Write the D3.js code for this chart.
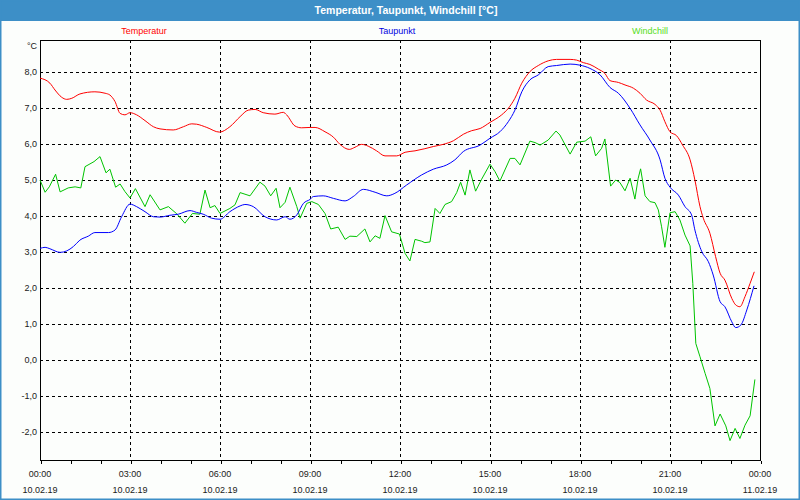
<!DOCTYPE html>
<html>
<head>
<meta charset="utf-8">
<script src="https://cdn.jsdelivr.net/npm/d3@7"></script>
<style>
  html, body { margin: 0; padding: 0; background: #ffffff; }
  svg { display: block; }
  text { font-family: "Liberation Sans", Arial, sans-serif; }
</style>
</head>
<body>
<svg id="chart" width="800" height="500"></svg>
<script>
// ---- data (hours since 10.02.19 00:00, °C) ----
const titleText = "Temperatur, Taupunkt, Windchill [°C]";
const seriesNames = ["Temperatur", "Taupunkt", "Windchill"];

const tempHours = [0,0.33,0.5,0.72,0.89,1.06,1.33,1.83,2.17,2.33,2.5,2.67,2.83,3.0,3.22,3.5,3.78,4.0,4.44,4.78,5.06,5.22,5.56,5.98,6.33,6.67,6.94,7.17,7.44,7.83,8.11,8.22,8.5,8.72,9.0,9.17,9.5,9.78,10.0,10.31,10.5,10.72,10.94,11.22,11.5,11.89,12.17,12.5,12.83,13.11,13.44,13.78,14.11,14.39,14.67,15.0,15.39,15.61,15.83,16.06,16.33,16.61,16.94,17.22,17.67,17.89,18.11,18.33,18.61,18.83,19.0,19.28,19.5,19.78,20.0,20.22,20.5,20.67,20.83,21.0,21.22,21.42,21.67,21.83,22.0,22.11,22.33,22.52,22.67,22.83,23.06,23.19,23.33,23.5,23.67,23.81];
const tempValues = [7.83,7.69,7.5,7.3,7.24,7.27,7.39,7.45,7.41,7.36,7.18,6.85,6.81,6.87,6.81,6.65,6.48,6.42,6.39,6.48,6.56,6.55,6.46,6.33,6.48,6.76,6.94,6.96,6.87,6.83,6.88,6.81,6.5,6.45,6.46,6.46,6.34,6.19,5.99,5.85,5.91,5.99,5.94,5.81,5.67,5.67,5.77,5.81,5.87,5.93,5.99,6.09,6.27,6.37,6.43,6.6,6.81,6.99,7.27,7.69,8.01,8.18,8.31,8.35,8.35,8.33,8.26,8.21,8.08,7.96,7.76,7.71,7.64,7.55,7.41,7.22,7.1,6.94,6.62,6.34,6.23,5.97,5.56,5.0,4.26,3.94,3.52,2.87,2.41,2.22,1.71,1.53,1.48,1.76,2.13,2.45];

const dewHours = [0,0.17,0.33,0.67,0.89,1.11,1.33,1.61,1.83,2.28,2.5,2.72,3.0,3.22,3.5,3.78,4.0,4.33,4.61,5.0,5.22,5.44,5.72,6.0,6.33,6.67,6.83,7.11,7.5,7.89,8.17,8.33,8.56,8.78,9.0,9.11,9.44,9.78,10.17,10.44,10.78,11.17,11.56,11.83,12.22,12.72,13.11,13.56,13.83,14.11,14.67,15.0,15.33,15.61,15.83,16.06,16.33,16.61,16.94,17.22,17.67,18.0,18.33,18.67,19.0,19.28,19.67,20.0,20.33,20.67,20.83,21.0,21.28,21.5,21.72,21.83,22.06,22.28,22.44,22.67,22.83,23.06,23.19,23.36,23.56,23.8];
const dewValues = [3.1,3.13,3.09,2.99,3.03,3.15,3.33,3.44,3.54,3.54,3.61,3.98,4.33,4.26,4.12,3.98,3.97,4.02,4.05,4.15,4.1,4.05,3.94,3.91,4.12,4.28,4.32,4.26,3.98,3.89,3.98,3.91,4.03,4.35,4.46,4.54,4.56,4.49,4.42,4.54,4.74,4.66,4.56,4.63,4.86,5.14,5.3,5.42,5.56,5.79,5.97,6.16,6.34,6.62,6.94,7.45,7.78,7.92,8.15,8.18,8.22,8.19,8.1,7.92,7.57,7.41,6.99,6.53,6.11,5.56,5.05,4.8,4.58,4.26,4.03,3.61,3.01,2.73,2.36,1.62,1.48,1.06,0.9,0.97,1.39,2.06];

const chillHours = [0,0.17,0.31,0.52,0.67,0.94,1.17,1.36,1.5,1.8,2.0,2.2,2.33,2.52,2.67,2.83,3.0,3.18,3.5,3.67,4.0,4.28,4.56,4.83,5.08,5.33,5.5,5.67,5.83,6.0,6.33,6.5,6.67,7.0,7.33,7.5,7.69,7.87,8.0,8.17,8.33,8.56,8.67,8.89,9.06,9.28,9.5,9.69,9.94,10.17,10.33,10.56,10.83,11.0,11.17,11.33,11.5,11.72,11.98,12.17,12.33,12.5,12.72,12.83,13.0,13.17,13.33,13.5,13.72,13.89,14.02,14.17,14.33,14.52,14.72,15.0,15.17,15.33,15.67,15.83,16.0,16.33,16.5,16.67,16.94,17.2,17.33,17.67,17.89,18.17,18.36,18.52,18.72,18.83,19.02,19.19,19.33,19.5,19.67,19.83,19.94,20.02,20.17,20.33,20.5,20.61,20.72,20.83,21.0,21.17,21.33,21.5,21.67,21.76,21.86,22.0,22.17,22.33,22.5,22.67,22.86,23.0,23.17,23.33,23.5,23.67,23.83];
const chillValues = [5.0,4.66,4.81,5.16,4.67,4.78,4.81,4.78,5.37,5.51,5.65,5.2,5.3,4.8,4.89,4.68,4.5,4.76,4.26,4.59,4.17,4.26,4.06,3.8,4.07,4.05,4.72,4.23,4.29,4.07,4.21,4.31,4.65,4.56,4.94,4.83,4.56,4.77,4.23,4.38,4.8,4.26,3.94,4.35,4.4,4.32,4.07,3.64,3.69,3.35,3.44,3.43,3.64,3.28,3.45,3.38,4.01,3.56,3.5,2.96,2.75,3.35,3.3,3.26,3.28,4.21,4.07,4.32,4.4,4.65,4.94,4.58,5.28,4.69,5.02,5.44,5.23,4.97,5.6,5.6,5.42,6.08,6.04,5.97,6.11,6.36,6.25,5.72,6.05,6.08,6.2,5.67,5.88,6.14,4.83,5.0,4.93,4.7,5.05,4.47,5.05,5.31,4.56,4.4,4.37,4.17,3.7,3.13,4.09,4.12,3.89,3.47,3.17,2.13,0.46,0.09,-0.37,-0.79,-1.83,-1.5,-1.83,-2.24,-1.9,-2.18,-1.81,-1.55,-0.54];

const yTickValues = [-2,-1,0,1,2,3,4,5,6,7,8];
const xMajorHours = [0,3,6,9,12,15,18,21,24];
const xTimeLabels = ["00:00","03:00","06:00","09:00","12:00","15:00","18:00","21:00","00:00"];
const xDateLabels = ["10.02.19","10.02.19","10.02.19","10.02.19","10.02.19","10.02.19","10.02.19","10.02.19","11.02.19"];

// ---- drawing ----
(function () {
const W = 800, H = 500;
const frameColor = "#3d8fc7";
const colors = { temp: "#ff0000", dew: "#0000ff", chill: "#00c400" };
const legendColors = ["#ff0000", "#0000e0", "#55dd22"];

const svg = d3.select("#chart");

svg.append("rect").attr("x", 0).attr("y", 0).attr("width", W).attr("height", H).attr("fill", "#fcfefc");
svg.append("rect").attr("x", 0).attr("y", 0).attr("width", W).attr("height", 21).attr("fill", frameColor);
svg.append("rect").attr("x", 0.75).attr("y", 0.75).attr("width", W - 1.5).attr("height", H - 1.5)
  .attr("fill", "none").attr("stroke", frameColor).attr("stroke-width", 1.5);

svg.append("text").attr("x", 406).attr("y", 14)
  .attr("text-anchor", "middle").attr("fill", "#ffffff")
  .attr("font-weight", "bold").attr("font-size", "10.5px").text(titleText);

const legendX = [144, 397, 650];
seriesNames.forEach((n, i) => {
  svg.append("text").attr("x", legendX[i]).attr("y", 34)
    .attr("text-anchor", "middle").attr("fill", legendColors[i])
    .attr("font-size", "9px").text(n);
});

const pLeft = 40, pRight = 760, pTop = 40, pBottom = 460;
const x = d3.scaleLinear().domain([0, 24]).range([pLeft, pRight]);
const y = d3.scaleLinear().domain([(360 - pBottom) / 36, (360 - pTop) / 36]).range([pBottom, pTop]);

const g = svg.append("g");

// horizontal grid
g.selectAll("line.hgrid").data(yTickValues).join("line")
  .attr("class", "hgrid")
  .attr("x1", pLeft).attr("x2", pRight)
  .attr("y1", d => Math.round(y(d)) + 0.5).attr("y2", d => Math.round(y(d)) + 0.5)
  .attr("stroke", "#000").attr("stroke-width", 1).attr("stroke-dasharray", "3,3")
  .attr("shape-rendering", "crispEdges");

// vertical grid
g.selectAll("line.vgrid").data(xMajorHours.filter(h => h > 0 && h < 24)).join("line")
  .attr("class", "vgrid")
  .attr("x1", d => Math.round(x(d)) + 0.5).attr("x2", d => Math.round(x(d)) + 0.5)
  .attr("y1", pTop).attr("y2", pBottom)
  .attr("stroke", "#000").attr("stroke-width", 1).attr("stroke-dasharray", "3,3")
  .attr("shape-rendering", "crispEdges");

// frame
g.append("rect").attr("x", pLeft + 0.5).attr("y", pTop + 0.5)
  .attr("width", pRight - pLeft).attr("height", pBottom - pTop)
  .attr("fill", "none").attr("stroke", "#000").attr("stroke-width", 1)
  .attr("shape-rendering", "crispEdges");

// x axis minor ticks
const xAxis = d3.axisBottom(x).tickValues(d3.range(0, 25, 1)).tickSize(3).tickFormat("");
const xa = svg.append("g").attr("transform", `translate(0.5,${pBottom + 0.5})`).call(xAxis);
xa.select(".domain").remove();
xa.selectAll("line").attr("stroke", "#000").attr("shape-rendering", "crispEdges");

// x labels
xMajorHours.forEach((h, i) => {
  svg.append("text").attr("x", x(h)).attr("y", 477)
    .attr("text-anchor", "middle").attr("font-size", "9px").attr("fill", "#1a1a1a")
    .text(xTimeLabels[i]);
  svg.append("text").attr("x", x(h)).attr("y", 492.5)
    .attr("text-anchor", "middle").attr("font-size", "9px").attr("fill", "#1a1a1a")
    .text(xDateLabels[i]);
});

// y labels
yTickValues.forEach(v => {
  svg.append("text").attr("x", 37).attr("y", y(v) + 3.3)
    .attr("text-anchor", "end").attr("font-size", "9px").attr("fill", "#1a1a1a")
    .text(d3.format(".1f")(v).replace(".", ",").replace("\u2212", "-"));
});
svg.append("text").attr("x", 37).attr("y", 49)
  .attr("text-anchor", "end").attr("font-size", "9px").attr("fill", "#1a1a1a").text("°C");

// lines
function drawLine(hours, values, color, curve) {
  const data = hours.map((h, i) => [h, values[i]]);
  const line = d3.line().x(d => x(d[0])).y(d => y(d[1])).curve(curve);
  svg.append("path").datum(data)
    .attr("d", line).attr("fill", "none")
    .attr("stroke", color).attr("stroke-width", 1);
}
drawLine(chillHours, chillValues, colors.chill, d3.curveLinear);
drawLine(dewHours, dewValues, colors.dew, d3.curveMonotoneX);
drawLine(tempHours, tempValues, colors.temp, d3.curveMonotoneX);
})();
</script>
</body>
</html>
